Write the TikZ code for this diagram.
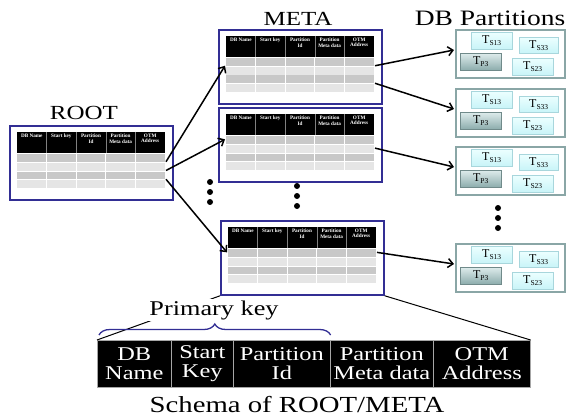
\documentclass[tikz,border=0pt]{standalone}
\usepackage{fontspec}
\setmainfont{Liberation Serif}
\newfontfamily\wideserif[FakeStretch=1.25]{Liberation Serif}
\usetikzlibrary{arrows.meta,decorations.pathreplacing,shadows}

\definecolor{tblue}{RGB}{50,46,148}
\definecolor{rowdark}{RGB}{200,200,200}
\definecolor{rowlight}{RGB}{229,229,229}
\definecolor{pedge}{RGB}{138,166,166}
\definecolor{cyanedge}{RGB}{168,214,220}
\definecolor{cyantop}{RGB}{236,255,255}
\definecolor{cyanbot}{RGB}{200,244,248}
\definecolor{ptop}{RGB}{222,236,236}
\definecolor{pbot}{RGB}{140,172,172}

\newcommand\tsub[1]{T\raisebox{-2pt}{\fontsize{7.5}{7.5}\selectfont #1}}

\tikzset{
  arr/.style={line width=1.5pt, -{Straight Barb[length=5pt,width=9pt]}},
  title/.style={font=\wideserif\fontsize{20}{20}\selectfont, inner sep=0pt, anchor=base},
  hdr/.style={font=\fontsize{5.2}{5.2}\selectfont\bfseries, text=white, align=center, inner sep=0pt, anchor=north},
  sbox/.style={anchor=north west, minimum width=41pt, minimum height=17pt, inner sep=0pt,
    draw=cyanedge, top color=cyantop, bottom color=cyanbot, font=\fontsize{12}{12}\selectfont,
    drop shadow={opacity=0.2, shadow xshift=0.8pt, shadow yshift=-0.8pt}},
  pbox/.style={sbox, draw=pbot!80!black, top color=ptop, bottom color=pbot},
  pframe/.style={anchor=north west, draw=pedge, line width=1.6pt, fill=white,
    minimum width=109pt, minimum height=48pt, inner sep=0pt},
  cell/.style={anchor=north west, fill=black, draw=gray!70, line width=0.6pt, text=white,
    minimum height=47pt, inner sep=0pt, align=center,
    font=\wideserif\fontsize{19.5}{19.5}\selectfont},
  % small lookup table used for ROOT and META
  dbtable/.pic={
    \node[draw=tblue, line width=1.8pt, minimum width=163pt, minimum height=74pt,
      inner sep=0pt, anchor=north west] (-box) at (0,0) {};
    \fill[black] (8,7) rectangle (156,28);
    \foreach \r/\c in {0/rowdark,1/rowlight,2/rowdark,3/rowlight}
      \fill[\c] (8,{29+\r*8.75}) rectangle (156,{28.2+(\r+1)*8.75});
    \foreach \k in {1,...,4} {
      \draw[gray, line width=0.6pt] ({8+29.6*\k},7) -- ({8+29.6*\k},28);
      \draw[white, line width=0.8pt] ({8+29.6*\k},29) -- ({8+29.6*\k},64);
    }
    \foreach \k/\t in {0/{DB Name},1/{Start key},2/{Partition\\Id},3/{Partition\\Meta data},4/{OTM\\Address}}
      \node[hdr] at ({8+29.6*(\k+0.5)},9) {\t};
    \foreach \k in {0,...,8} {
      \coordinate (-e\k) at (157,{28+\k*4.375});
      \coordinate (-w\k) at (7,{28+\k*4.375});
    }
  },
  % partition container with its tablets
  partbox/.pic={
    \node[pframe] (-box) at (0,0) {};
    \node[sbox] (-s13) at (16,3) {\tsub{S13}};
    \node[sbox, minimum width=39pt, minimum height=16pt] (-s33) at (64,8) {\tsub{S33}};
    \node[pbox] (-p3) at (5,24) {\tsub{P3}};
    \node[sbox] (-s23) at (57,29) {\tsub{S23}};
    \coordinate (-in) at (-1,21);
  }
}

\begin{document}
\begin{tikzpicture}[x=1pt,y=-1pt]
\useasboundingbox (0,0) rectangle (586,417);

% titles
\node[title] (troot) at (84,120) {ROOT};
\node[title] (tmeta) at (298,26) {META};
\node[title, font=\wideserif\fontsize{22}{22}\selectfont] (tpart) at (490,26) {DB Partitions};

% tables
\pic (root) at (9,125) {dbtable};
\pic (meta1) at (218,29) {dbtable};
\pic (meta2) at (218,107) {dbtable};
\pic (meta3) at (220,220) {dbtable};

% partitions
\pic (p1) at (455,29) {partbox};
\pic (p2) at (455,88) {partbox};
\pic (p3) at (455,146) {partbox};
\pic (p4) at (455,243) {partbox};

% continuation dots
\foreach \x/\y in {210/182,210/192,210/202,297/186,297/196,297/206,498/208,498/218,498/228}
  \fill (\x,\y) circle (3pt);

% ROOT -> META
\draw[arr] (root-e2) -- (meta1-w2);
\draw[arr] (root-e4) -- (meta2-w1);
\draw[arr] (root-e6) -- (meta3-w1);

% META -> partitions
\draw[arr] (meta1-e2) -- (p1-in);
\draw[arr] (meta1-e6) -- (p2-in);
\draw[arr] (meta2-e3) -- (p3-in);
\draw[arr] (meta3-e1) -- (p4-in);

% schema row
\node[cell, minimum width=74pt] (c1) at (97,340) {DB\\Name};
\node[cell, minimum width=62pt] (c2) at (171,340) {Start\\Key};
\node[cell, minimum width=97pt] (c3) at (233,340) {Partition\\Id};
\node[cell, minimum width=103pt] (c4) at (330,340) {Partition\\Meta data};
\node[cell, minimum width=97pt] (c5) at (433,340) {OTM\\Address};

% zoom lines from the last META table
\draw[line width=1pt] (meta3-box.south west) -- (c1.north west);
\draw[line width=1pt] (meta3-box.south east) -- (c5.north east);

\node[title, font=\wideserif\fontsize{21}{21}\selectfont, fill=white, inner sep=1pt] (pk) at (214,315) {Primary key};
\draw[tblue, line width=1.3pt, decorate, decoration={brace, amplitude=11pt}]
  ([xshift=2pt,yshift=5pt]c1.north west) -- ([yshift=5pt]c3.north east);

\node[title, font=\wideserif\fontsize{23}{23}\selectfont] (schema) at (297,412) {Schema of ROOT/META};
\end{tikzpicture}
\end{document}
